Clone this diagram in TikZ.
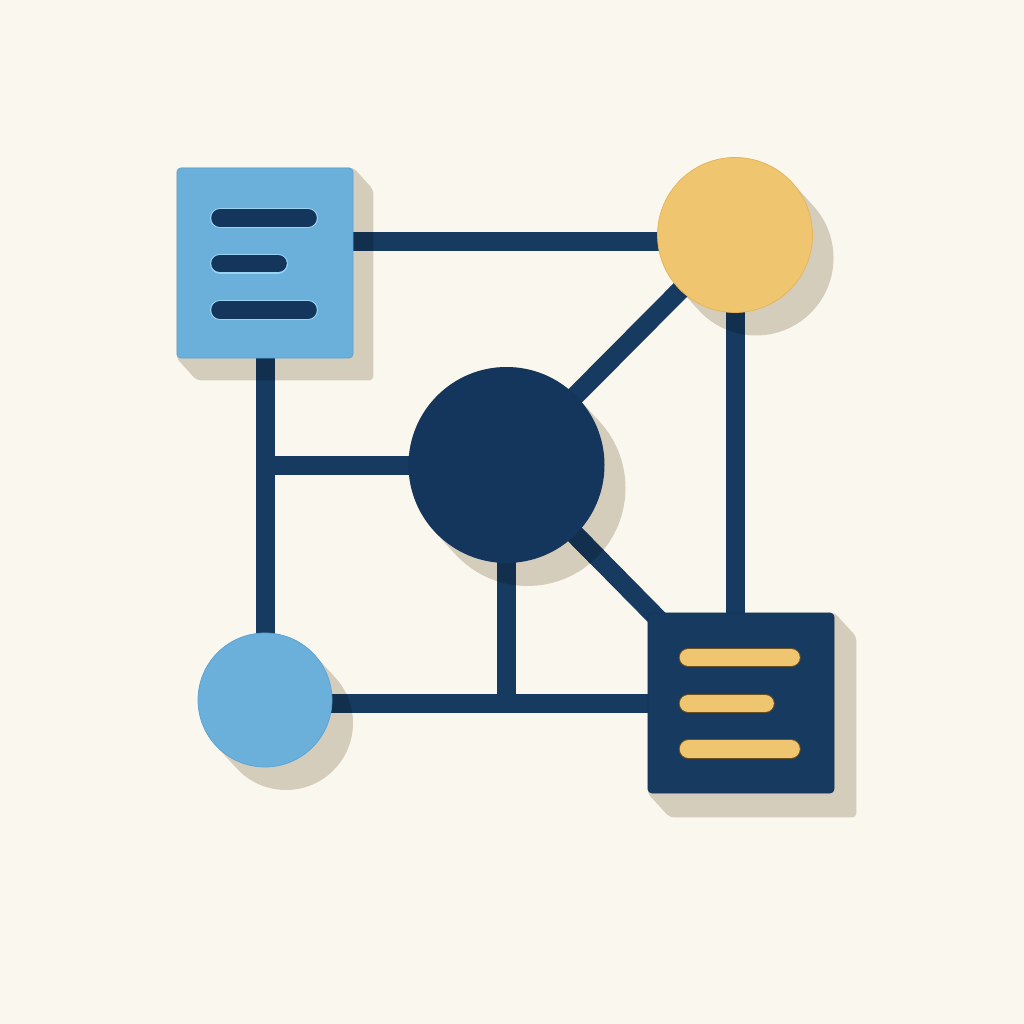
\documentclass[tikz,border=0pt]{standalone}
\usetikzlibrary{calc}
\definecolor{bgc}{HTML}{FAF7EE}
\definecolor{navy}{HTML}{173A61}
\definecolor{navydark}{HTML}{12304E}
\definecolor{navydeep}{HTML}{15365C}
\definecolor{lblue}{HTML}{6BAFDB}
\definecolor{lblueedge}{HTML}{5AA2D4}
\definecolor{lbluehi}{HTML}{9BD3F2}
\definecolor{ylw}{HTML}{F0C56F}
\definecolor{ylwedge}{HTML}{E6B457}
\definecolor{ylwbarout}{HTML}{6B5020}
\definecolor{shadowc}{HTML}{D4CDBC}
\pgfdeclarelayer{lines}
\pgfsetlayers{lines,main}
\newcommand\drawconns[1]{%
  \draw[#1] (tl) -- (tl -| B.center);
  \draw[#1] (A.center) -- (C.center);
  \draw[#1] (A.center |- D.center) -- (D.center);
  \draw[#1] (D.center) -- (B.center);
  \draw[#1] (B.center) -- (B.center |- E.center);
  \draw[#1] (D.center) -- (E.center);
  \draw[#1] (D.center) -- (D.center |- bl);
  \draw[#1] (bl) -- (bl -| E.center);
}
\begin{document}
\begin{tikzpicture}[x=1pt,y=-1pt,
  conn/.style={draw=navy,line width=19pt},
  conndark/.style={draw=navydark,line width=19pt},
  sqnode/.style={rectangle,rounded corners=4pt,inner sep=0pt,line width=0.7pt},
  circnode/.style={circle,inner sep=0pt,line width=0.7pt},
  darkbarout/.style={draw=lbluehi,line width=20pt,line cap=round},
  darkbar/.style={draw=navydeep,line width=17.6pt,line cap=round},
  ylwbarouter/.style={draw=ylwbarout,line width=19.6pt,line cap=round},
  ylwbar/.style={draw=ylw,line width=17.6pt,line cap=round},
  shadowfill/.style={fill=shadowc}
]
\useasboundingbox (0,0) rectangle (1024,1024);

% nodes
\node[sqnode,fill=lblue,draw=lblueedge,minimum width=176pt,minimum height=190pt] (A) at (265,263) {};
\node[circnode,fill=ylw,draw=ylwedge,minimum size=155pt] (B) at (735,235) {};
\node[circnode,fill=lblue,draw=lblueedge,minimum size=134pt] (C) at (265,700) {};
\node[circnode,fill=navydeep,minimum size=196pt] (D) at (506.5,465) {};
\node[sqnode,fill=navy,draw=navydeep,minimum width=186pt,minimum height=180pt] (E) at (741,703) {};

% bars in the squares
\draw[darkbarout] (220,218) -- (308,218);
\draw[darkbar] (220,218) -- (308,218);
\draw[darkbarout] (220,263.5) -- (278,263.5);
\draw[darkbar] (220,263.5) -- (278,263.5);
\draw[darkbarout] (220,310) -- (308,310);
\draw[darkbar] (220,310) -- (308,310);

\draw[ylwbarouter] (688.5,657.5) -- (791,657.5);
\draw[ylwbar] (688.5,657.5) -- (791,657.5);
\draw[ylwbarouter] (688.5,703.5) -- (765,703.5);
\draw[ylwbar] (688.5,703.5) -- (765,703.5);
\draw[ylwbarouter] (688.5,749) -- (791,749);
\draw[ylwbar] (688.5,749) -- (791,749);

\begin{pgfonlayer}{lines}
  \fill[bgc] (0,0) rectangle (1024,1024);
  \coordinate (tl) at (265,241.5);
  \coordinate (bl) at (265,703.5);
  % shadows
  \fill[shadowfill,rounded corners=4pt] (A.north west) -- (A.north east) -- ($(A.north east)+(20,22)$) -- ($(A.south east)+(20,22)$) -- ($(A.south west)+(20,22)$) -- (A.south west) -- cycle;
  \fill[shadowfill,rounded corners=4pt] (E.north west) -- (E.north east) -- ($(E.north east)+(22,24)$) -- ($(E.south east)+(22,24)$) -- ($(E.south west)+(22,24)$) -- (E.south west) -- cycle;
  \fill[shadowfill] (B.center) ++(137.6:77.5) arc[start angle=137.6,end angle=317.6,radius=77.5] -- ++(21,23) arc[start angle=-42.4,end angle=137.6,radius=77.5] -- cycle;
  \fill[shadowfill] (C.center) ++(137.6:67) arc[start angle=137.6,end angle=317.6,radius=67] -- ++(21,23) arc[start angle=-42.4,end angle=137.6,radius=67] -- cycle;
  \fill[shadowfill] (D.center) ++(137.6:98) arc[start angle=137.6,end angle=317.6,radius=98] -- ++(21,23) arc[start angle=-42.4,end angle=137.6,radius=98] -- cycle;
  % connectors
  \drawconns{conn}
  % connectors where they pass over a shadow
  \begin{scope}
    \clip[rounded corners=4pt] (A.north west) -- (A.north east) -- ($(A.north east)+(20,22)$) -- ($(A.south east)+(20,22)$) -- ($(A.south west)+(20,22)$) -- (A.south west) -- cycle;
    \drawconns{conndark}
  \end{scope}
  \begin{scope}
    \clip (B.center) ++(137.6:77.5) arc[start angle=137.6,end angle=317.6,radius=77.5] -- ++(21,23) arc[start angle=-42.4,end angle=137.6,radius=77.5] -- cycle;
    \drawconns{conndark}
  \end{scope}
  \begin{scope}
    \clip (C.center) ++(137.6:67) arc[start angle=137.6,end angle=317.6,radius=67] -- ++(21,23) arc[start angle=-42.4,end angle=137.6,radius=67] -- cycle;
    \drawconns{conndark}
  \end{scope}
  \begin{scope}
    \clip (D.center) ++(137.6:98) arc[start angle=137.6,end angle=317.6,radius=98] -- ++(21,23) arc[start angle=-42.4,end angle=137.6,radius=98] -- cycle;
    \drawconns{conndark}
  \end{scope}
\end{pgfonlayer}
\end{tikzpicture}
\end{document}
